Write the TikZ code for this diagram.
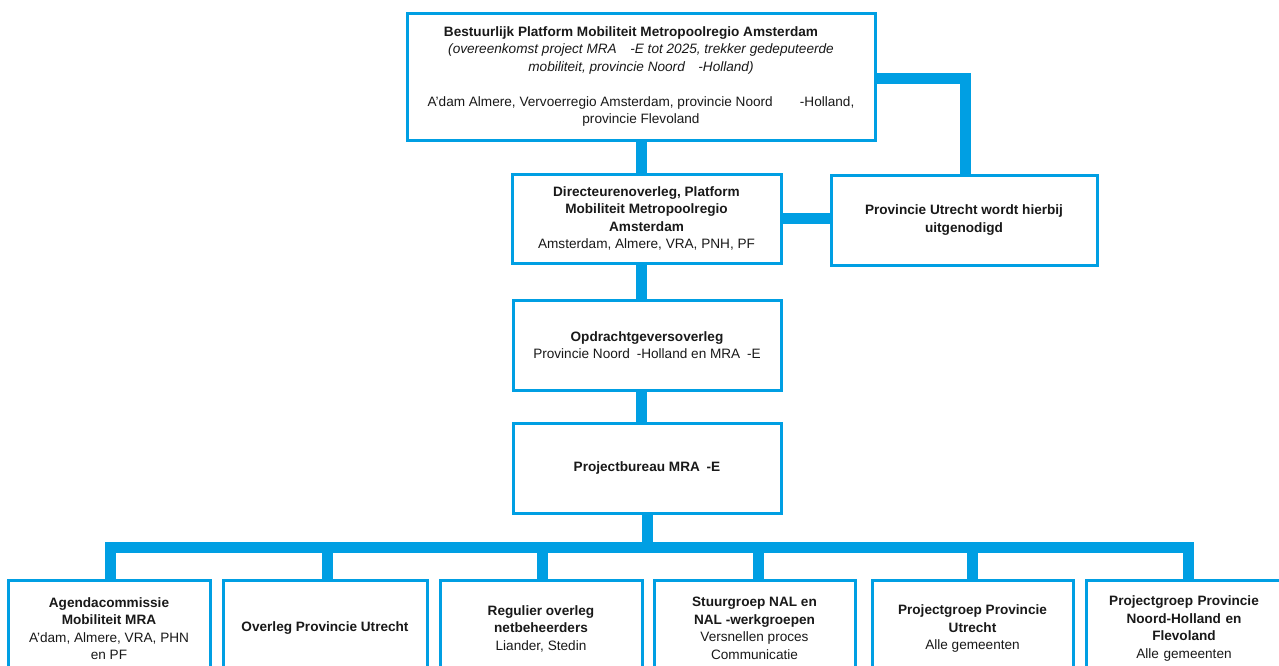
\documentclass[tikz,border=0pt]{standalone}
\usepackage{fontspec}
\setmainfont{Liberation Sans}
\usetikzlibrary{backgrounds}
\definecolor{mrablue}{RGB}{0,159,227}
\definecolor{txt}{RGB}{25,25,25}
\tikzset{
  orgbox/.style={draw=mrablue, line width=3pt, fill=white, align=center,
    inner sep=0pt, text=txt, font=\fontsize{13.6}{17.5}\selectfont},
  conn/.style={draw=mrablue, line width=11pt, line join=miter}
}
\begin{document}
\begin{tikzpicture}[x=1pt,y=-1pt]
\useasboundingbox (0,0) rectangle (1279,665);
\clip (0,0) rectangle (1279,665);

\node[orgbox, minimum width=468pt, minimum height=127pt] (top) at (641,76.5)
 {\textbf{Bestuurlijk Platform Mobiliteit Metropoolregio Amsterdam}\hspace*{20pt}\\
  \textit{(overeenkomst project MRA\quad -E tot 2025, trekker gedeputeerde}\hspace*{20pt}\\
  \textit{mobiliteit, provincie Noord\quad -Holland)}\\[17.5pt]
  A'dam Almere, Vervoerregio Amsterdam, provincie Noord\qquad -Holland,\\
  provincie Flevoland};

\node[orgbox, minimum width=269pt, minimum height=89pt] (dir) at (646.5,218.5)
 {\textbf{Directeurenoverleg, Platform}\\
  \textbf{Mobiliteit Metropoolregio}\\
  \textbf{Amsterdam}\\
  Amsterdam, Almere, VRA, PNH, PF};

\node[orgbox, minimum width=266pt, minimum height=90pt] (prov) at (964,220)
 {\textbf{Provincie Utrecht wordt hierbij}\\
  \textbf{uitgenodigd}};

\node[orgbox, minimum width=268pt, minimum height=90pt] (opd) at (647,345)
 {\textbf{Opdrachtgeversoverleg}\\
  Provincie Noord\enspace -Holland en MRA\enspace -E};

\node[orgbox, minimum width=268pt, minimum height=90pt] (pb) at (647,468)
 {\textbf{Projectbureau MRA\enspace -E}};

\node[orgbox, minimum width=202pt, minimum height=97pt] (b1) at (109,628.5)
 {\textbf{Agendacommissie}\\
  \textbf{Mobiliteit MRA}\\
  A'dam, Almere, VRA, PHN\\
  en PF};
\node[orgbox, minimum width=204pt, minimum height=97pt] (b2) at (325,628.5)
 {\textbf{Overleg Provincie Utrecht}};
\node[orgbox, minimum width=202pt, minimum height=97pt] (b3) at (541,628.5)
 {\textbf{Regulier overleg}\\
  \textbf{netbeheerders}\\
  Liander, Stedin};
\node[orgbox, minimum width=201pt, minimum height=97pt] (b4) at (754.5,628.5)
 {\textbf{Stuurgroep NAL en}\\
  \textbf{NAL -werkgroepen}\\
  Versnellen proces\\
  Communicatie};
\node[orgbox, minimum width=201pt, minimum height=97pt] (b5) at (972.5,628.5)
 {\textbf{Projectgroep Provincie}\\
  \textbf{Utrecht}\\
  Alle gemeenten};
\node[orgbox, minimum width=204pt, minimum height=97pt, text width=200pt] (b6) at (1188,628.5)
 {\hspace*{-8pt}\textbf{Projectgroep Provincie}\\
  \hspace*{-8pt}\textbf{Noord-Holland en}\\
  \hspace*{-8pt}\textbf{Flevoland}\\
  \hspace*{-8pt}Alle gemeenten};

\coordinate (k) at (965,78);
\coordinate (bus) at (647.5,547.5);
\coordinate (busL) at (105,547.5);
\coordinate (busR) at (1194,547.5);

\begin{pgfonlayer}{background}
  \draw[conn] (top.south) -- (top.south |- dir.north);
  \draw[conn] (top.south |- dir.south) -- (top.south |- opd.north);
  \draw[conn] (top.south |- opd.south) -- (top.south |- pb.north);
  \draw[conn] (top.east |- k) -- (k) -- (k |- prov.north);
  \draw[conn] (dir.east) -- (dir.east -| prov.west);
  \draw[conn] (bus |- pb.south) -- (bus);
  \draw[conn] (busL) -- (busR);
  \draw[conn] ([xshift=5.5pt]busL |- 0,542) -- ([xshift=5.5pt]busL |- b1.north);
  \draw[conn] (327.5,547.5) -- (327.5,0 |- b2.north);
  \draw[conn] (542,547.5) -- (542,0 |- b3.north);
  \draw[conn] (758,547.5) -- (758,0 |- b4.north);
  \draw[conn] (972.5,547.5) -- (972.5,0 |- b5.north);
  \draw[conn] ([xshift=-5.5pt]busR |- 0,542) -- ([xshift=-5.5pt]busR |- b6.north);
\end{pgfonlayer}
\end{tikzpicture}
\end{document}
